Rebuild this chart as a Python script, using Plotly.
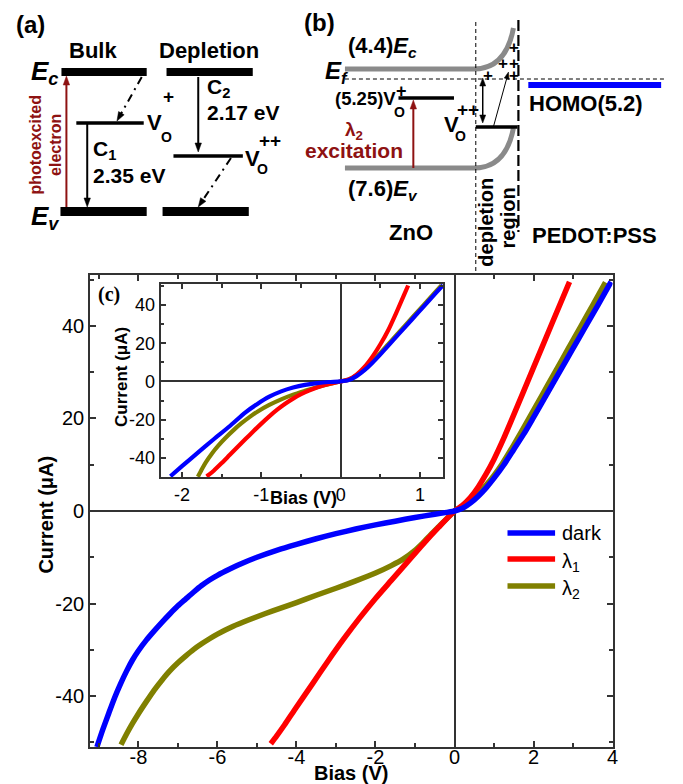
import math
import plotly.graph_objects as go

W, H = 683, 784
FONT = "Arial, Liberation Sans, sans-serif"
SERIF = "Times New Roman, Liberation Serif, serif"
DARKRED = "#8E1212"
GRAY = "#8A8A8A"
AXC = "#333333"

# ---------------- panel (c) main: Bias (V) vs Current (uA) ----------------
dark_x = [-9.05, -8.9, -8.75, -8.6, -8.45, -8.3, -8.15, -8.0, -7.8, -7.6, -7.4, -7.2, -7.0, -6.8,
          -6.6, -6.4, -6.2, -6.0, -5.7, -5.4, -5.0, -4.5, -4.0, -3.5, -3.0, -2.5, -2.0, -1.5,
          -1.0, -0.5, -0.2, 0.0, 0.2, 0.4, 0.6, 0.8, 1.0, 1.25, 1.5, 1.75, 1.97, 2.3, 2.64,
          2.97, 3.3, 3.63, 3.96]
dark_y = [-51.0, -47.2, -43.7, -40.3, -37.3, -34.6, -32.2, -30.2, -27.9, -25.9, -24.0, -22.2, -20.5, -19.0,
          -17.5, -16.1, -14.9, -13.9, -12.6, -11.4, -10.0, -8.5, -7.2, -6.0, -4.9, -3.9, -3.0, -2.2,
          -1.4, -0.7, -0.3, 0.0, 0.6, 1.7, 3.2, 5.0, 7.1, 10.0, 13.3, 16.6, 19.8, 24.7, 29.8,
          34.7, 39.6, 44.5, 49.5]

l1_x = [-4.65, -4.5, -4.3, -4.05, -3.6, -3.2, -2.8, -2.4, -2.0, -1.6, -1.2, -0.8, -0.4, 0.0,
        0.2, 0.4, 0.6, 0.8, 1.0, 1.25, 1.45, 1.98, 2.45, 2.91]
l1_y = [-50.3, -48.6, -46.2, -43.0, -37.4, -32.4, -27.6, -23.1, -18.9, -15.0, -11.1, -7.2, -3.5, 0.0,
        1.2, 2.9, 5.2, 8.0, 11.2, 15.8, 19.8, 30.6, 40.2, 49.5]

l2_x = [-8.44, -8.3, -8.15, -8.0, -7.8, -7.6, -7.4, -7.2, -7.0, -6.8, -6.6, -6.4, -6.2, -6.0,
        -5.6, -5.2, -4.8, -4.4, -4.0, -3.5, -3.0, -2.5, -2.0, -1.6, -1.3, -1.0, -0.8, -0.6,
        -0.4, -0.2, 0.0, 0.2, 0.4, 0.6, 0.8, 1.0, 1.2, 1.5, 1.87, 2.2, 2.53, 2.86, 3.19, 3.5, 3.82]
l2_y = [-50.5, -48.2, -45.9, -43.8, -41.2, -38.7, -36.5, -34.5, -32.8, -31.3, -29.9, -28.7, -27.6, -26.6,
        -24.9, -23.5, -22.2, -21.0, -19.8, -18.2, -16.7, -15.1, -13.4, -11.8, -10.4, -8.5, -6.9, -5.1,
        -3.4, -1.7, 0.0, 1.0, 2.3, 3.8, 5.6, 7.7, 10.1, 14.3, 19.8, 24.8, 29.8, 34.8, 39.8, 44.5, 49.4]

# ---------------- panel (c) inset ----------------
in_dark_x = [-2.146, -2.0, -1.8, -1.6, -1.4, -1.2, -1.05, -0.9, -0.75, -0.6, -0.45, -0.3, -0.15, 0.0,
             0.1, 0.2, 0.3, 0.4, 0.5, 0.6, 0.75, 0.9, 1.05, 1.2, 1.29]
in_dark_y = [-49.7, -44.4, -37.3, -30.3, -23.5, -16.2, -11.8, -8.0, -5.2, -3.2, -1.8, -0.9, -0.3, 0.0,
             0.7, 2.8, 5.9, 9.8, 14.2, 18.8, 25.7, 32.6, 39.5, 46.4, 50.5]
in_l1_x = [-1.69, -1.66, -1.6, -1.5, -1.4, -1.3, -1.2, -1.1, -1.0, -0.9, -0.8, -0.7, -0.6, -0.5,
           -0.4, -0.3, -0.2, -0.1, 0.0, 0.1, 0.2, 0.3, 0.4, 0.5, 0.6, 0.7, 0.8, 0.85]
in_l1_y = [-49.8, -48.9, -46.8, -42.8, -38.6, -34.4, -30.2, -26.1, -22.1, -18.3, -14.8, -11.7, -9.0, -6.7,
           -4.8, -3.2, -1.9, -0.9, 0.0, 1.0, 3.6, 7.6, 13.0, 19.5, 27.0, 36.0, 45.5, 50.3]
in_l2_x = [-1.8, -1.75, -1.7, -1.62, -1.54, -1.45, -1.35, -1.25, -1.15, -1.04, -0.9, -0.75, -0.6,
           -0.45, -0.3, -0.15, 0.0, 0.1, 0.2, 0.3, 0.4, 0.5, 0.6, 0.75, 0.9, 1.05, 1.2, 1.27]
in_l2_y = [-50.0, -46.0, -42.4, -37.6, -33.5, -29.5, -25.5, -21.9, -18.7, -15.6, -12.3, -9.4, -6.9,
           -4.9, -3.0, -1.4, 0.0, 1.0, 3.3, 6.6, 10.6, 15.0, 19.6, 26.5, 33.4, 40.3, 47.2, 50.4]

# tick labels
main_xt = [-8, -6, -4, -2, 0, 2, 4]
main_xt_txt = ["-8", "-6", "-4", "-2", "0", "2", "4"]
main_xminor = [-9, -7, -5, -3, -1, 1, 3]
main_yt = [-40, -20, 0, 20, 40]
main_yt_txt = ["-40", "-20", "0", "20", "40"]
main_yminor = [-50, -30, -10, 10, 30, 50]
in_xt = [-2, -1, 0, 1]
in_xt_txt = ["-2", "-1", "0", "1"]
in_xminor = [-1.5, -0.5, 0.5]
in_yt = [-40, -20, 0, 20, 40]
in_yt_txt = ["-40", "-20", "0", "20", "40"]
in_yminor = [-50, -30, -10, 10, 30, 50]

series_names = ["dark", "λ<sub>1</sub>", "λ<sub>2</sub>"]
series_colors = ["#0000FF", "#FF0000", "#808000"]


def X(px):
    return px / W


def Y(py):
    return 1 - py / H


shapes = []
annotations = []


def rect(x0, y0, x1, y1, color):
    shapes.append(dict(type="rect", xref="paper", yref="paper", x0=X(x0), x1=X(x1),
                       y0=Y(y1), y1=Y(y0), fillcolor=color, line=dict(width=0), layer="above"))


def seg(x0, y0, x1, y1, color="black", width=2, dash="solid"):
    shapes.append(dict(type="line", xref="paper", yref="paper", x0=X(x0), y0=Y(y0),
                       x1=X(x1), y1=Y(y1), line=dict(color=color, width=width, dash=dash),
                       layer="above"))


def path(pts_str, color, width):
    shapes.append(dict(type="path", xref="paper", yref="paper", path=pts_str,
                       line=dict(color=color, width=width), layer="above"))


def head(xt, yt, xh, yh, color, L=9.0, Wd=6.5):
    dx, dy = xh - xt, yh - yt
    d = math.hypot(dx, dy)
    ux, uy = dx / d, dy / d
    bx, by = xh - ux * L, yh - uy * L
    nx, ny = -uy, ux
    pts = [(xh, yh), (bx + nx * Wd / 2, by + ny * Wd / 2), (bx - nx * Wd / 2, by - ny * Wd / 2)]
    p = "M " + " L ".join(f"{X(a):.5f},{Y(b):.5f}" for a, b in pts) + " Z"
    shapes.append(dict(type="path", xref="paper", yref="paper", path=p, fillcolor=color,
                       line=dict(color=color, width=0.5), layer="above"))


def arrow(x0, y0, x1, y1, color="black", width=2, dash="solid", both=False, L=9.0, Wd=6.5):
    dx, dy = x1 - x0, y1 - y0
    d = math.hypot(dx, dy)
    ux, uy = dx / d, dy / d
    sx, sy = (x0 + ux * (L - 1), y0 + uy * (L - 1)) if both else (x0, y0)
    seg(sx, sy, x1 - ux * (L - 1), y1 - uy * (L - 1), color, width, dash)
    head(x0, y0, x1, y1, color, L, Wd)
    if both:
        head(x1, y1, x0, y0, color, L, Wd)


def txt(x, y, s, size=22, color="black", xanchor="center", yanchor="middle", angle=0,
        bold=True, italic=False, family=FONT):
    annotations.append(dict(xref="paper", yref="paper", x=X(x), y=Y(y), text=s, showarrow=False,
                            xanchor=xanchor, yanchor=yanchor, textangle=angle, borderpad=0,
                            font=dict(family=family, size=size, color=color,
                                      weight="bold" if bold else "normal",
                                      style="italic" if italic else "normal")))


def bez(pts):
    (a, b), rest = pts[0], pts[1:]
    s = f"M {X(a):.5f},{Y(b):.5f} L {X(rest[0][0]):.5f},{Y(rest[0][1]):.5f} C "
    s += " ".join(f"{X(p):.5f},{Y(q):.5f}" for p, q in rest[1:])
    return s


# ---------------- panel (a) schematic ----------------
txt(31, 24, "(a)", size=24)
txt(94, 50, "Bulk", size=22)
txt(211, 51, "Depletion", size=22)
txt(30, 72, "E<sub>c</sub>", size=26, xanchor="left", italic=True)
txt(30, 217, "E<sub>v</sub>", size=26, xanchor="left", italic=True)
rect(62, 68, 148, 76, "black")
rect(168, 68, 255, 76, "black")
rect(61, 207, 148, 216, "black")
rect(164, 207, 251, 216, "black")
seg(77, 123, 145, 123, "black", 3.5)
seg(175, 156, 245, 156, "black", 3.5)
arrow(67, 207, 67, 76, DARKRED, 2)
txt(46, 145, "photoexcited<br>electron", size=16, color=DARKRED, angle=-90)
arrow(88, 124, 88, 207, "black", 2)
arrow(143, 77, 118, 121, "black", 2, dash="8px,5px,2px,5px")
arrow(200, 77, 200, 152, "black", 2)
arrow(233, 158, 200, 207, "black", 2, dash="8px,5px,2px,5px")
txt(147, 123, "V", size=22, xanchor="left")
txt(170, 97, "+", size=19)
txt(168, 137, "O", size=14)
txt(246, 158, "V", size=22, xanchor="left")
txt(272, 141, "++", size=19)
txt(265, 169, "O", size=14)
txt(93, 150, "C<sub>1</sub>", size=21, xanchor="left")
txt(93, 175, "2.35 eV", size=21, xanchor="left")
txt(208, 88, "C<sub>2</sub>", size=21, xanchor="left")
txt(208, 113, "2.17 eV", size=21, xanchor="left")

# ---------------- panel (b) schematic ----------------
txt(322, 23, "(b)", size=24)
path(bez([(348, 69), (478, 69), (500, 69), (513, 55), (518, 28)]), GRAY, 5)
path(bez([(348, 168), (478, 168), (500, 168), (513, 154), (518, 128)]), GRAY, 5)
seg(348, 79, 670, 79, "black", 1, "4px,3px")
seg(480, 22, 480, 272, "black", 1, "4px,3px")
seg(523, 20, 523, 232, "black", 2.2, "11px,4px")
seg(402, 98, 458, 98, "black", 3.5)
seg(480, 127, 522, 127, "black", 3.5)
rect(533, 82, 667, 88, "#0000FF")
arrow(417, 168, 417, 100, DARKRED, 2)
arrow(487, 78, 487, 123, "black", 1.5, both=True, L=8, Wd=6)
arrow(498, 126, 513, 72, "black", 1, L=7, Wd=5)
for (px_, py_) in [(519, 48), (507, 63), (519, 63), (492, 76), (519, 76)]:
    txt(px_, py_, "+", size=17)
txt(350, 47, "(4.4)<i>E</i><sub><i>c</i></sub>", size=22, xanchor="left")
txt(327, 72, "E<sub>f</sub>", size=24, xanchor="left", italic=True)
txt(401, 99, "(5.25)V", size=18.5, xanchor="right")
txt(405, 91, "+", size=18)
txt(403, 112, "O", size=14)
txt(357, 131, "λ<sub>2</sub>", size=19, color=DARKRED)
txt(357, 151, "excitation", size=21, color=DARKRED)
txt(350, 190, "(7.6)<i>E</i><sub><i>v</i></sub>", size=22, xanchor="left")
txt(455, 124, "V", size=22)
txt(472, 110, "++", size=19)
txt(465, 136, "O", size=14)
txt(533, 103, "HOMO(5.2)", size=22, xanchor="left")
txt(415, 233, "ZnO", size=22)
txt(600, 236, "PEDOT:PSS", size=22)
txt(490, 222, "depletion", size=20, angle=-90)
txt(513, 218, "region", size=20, angle=-90)

# ---------------- panel (c) labels ----------------
txt(110, 295, "(c)", size=20, family=SERIF)
txt(354, 773, "Bias (V)", size=20)
txt(46, 515, "Current (μA)", size=20, angle=-90)
txt(306, 498, "Bias (V)", size=18)
txt(122, 377, "Current (μA)", size=17, angle=-90)

# legend (swatch + label) for the three curves
legend_rows = [533, 559, 586]
for i, row in enumerate(legend_rows):
    seg(512, row, 560, row, series_colors[i], 5.5)
    txt(566, row + (0 if i == 0 else 3), series_names[i], size=20, xanchor="left", bold=False)

fig = go.Figure()

main_series = [(dark_x, dark_y), (l1_x, l1_y), (l2_x, l2_y)]
inset_series = [(in_dark_x, in_dark_y), (in_l1_x, in_l1_y), (in_l2_x, in_l2_y)]
order = [2, 1, 0]  # draw olive, red, then blue on top
for i in order:
    xs, ys = main_series[i]
    fig.add_trace(go.Scatter(x=xs, y=ys, mode="lines", name=series_names[i],
                             line=dict(color=series_colors[i], width=5.5, shape="spline", smoothing=0.6),
                             xaxis="x", yaxis="y"))
for i in order:
    xs, ys = inset_series[i]
    fig.add_trace(go.Scatter(x=xs, y=ys, mode="lines", name=series_names[i] + " (inset)",
                             line=dict(color=series_colors[i], width=4.2, shape="spline", smoothing=0.6),
                             xaxis="x2", yaxis="y2"))

axis_common = dict(showline=True, linecolor=AXC, linewidth=2, mirror="ticks", ticks="inside",
                   tickcolor=AXC, tickwidth=1.5, showgrid=False, zeroline=True,
                   zerolinecolor=AXC, zerolinewidth=1.5, tickmode="array")

fig.update_layout(
    width=W, height=H, autosize=False,
    margin=dict(l=0, r=0, t=0, b=0),
    paper_bgcolor="white", plot_bgcolor="white",
    font=dict(family=FONT, color="black"),
    showlegend=False,
    xaxis=dict(domain=[X(91), X(618)], range=[-9.22, 4], anchor="y",
               tickvals=main_xt, ticktext=main_xt_txt, ticklen=6, ticklabelstandoff=-9,
               tickfont=dict(size=20, family=FONT, color="black"),
               minor=dict(tickmode="array", tickvals=main_xminor, ticks="inside", ticklen=4,
                          tickcolor=AXC, tickwidth=1.5, showgrid=False),
               **axis_common),
    yaxis=dict(domain=[Y(747), Y(275)], range=[-51, 51], anchor="x",
               tickvals=main_yt, ticktext=main_yt_txt, ticklen=6,
               tickfont=dict(size=20, family=FONT, color="black"),
               minor=dict(tickmode="array", tickvals=main_yminor, ticks="inside", ticklen=4,
                          tickcolor=AXC, tickwidth=1.5, showgrid=False),
               **axis_common),
    xaxis2=dict(domain=[X(162), X(447)], range=[-2.27, 1.29], anchor="y2",
                tickvals=in_xt, ticktext=in_xt_txt, ticklen=5,
                tickfont=dict(size=18, family=FONT, color="black"),
                minor=dict(tickmode="array", tickvals=in_xminor, ticks="inside", ticklen=3.5,
                           tickcolor=AXC, tickwidth=1.5, showgrid=False),
                **axis_common),
    yaxis2=dict(domain=[Y(477), Y(284)], range=[-50.1, 51.1], anchor="x2",
                tickvals=in_yt, ticktext=in_yt_txt, ticklen=5,
                tickfont=dict(size=18, family=FONT, color="black"),
                minor=dict(tickmode="array", tickvals=in_yminor, ticks="inside", ticklen=3.5,
                           tickcolor=AXC, tickwidth=1.5, showgrid=False),
                **axis_common),
    shapes=shapes,
    annotations=annotations,
)

fig.write_html("out.html", config={"displayModeBar": False},
               post_script="document.body.style.margin='0px';document.body.style.padding='0px';")
